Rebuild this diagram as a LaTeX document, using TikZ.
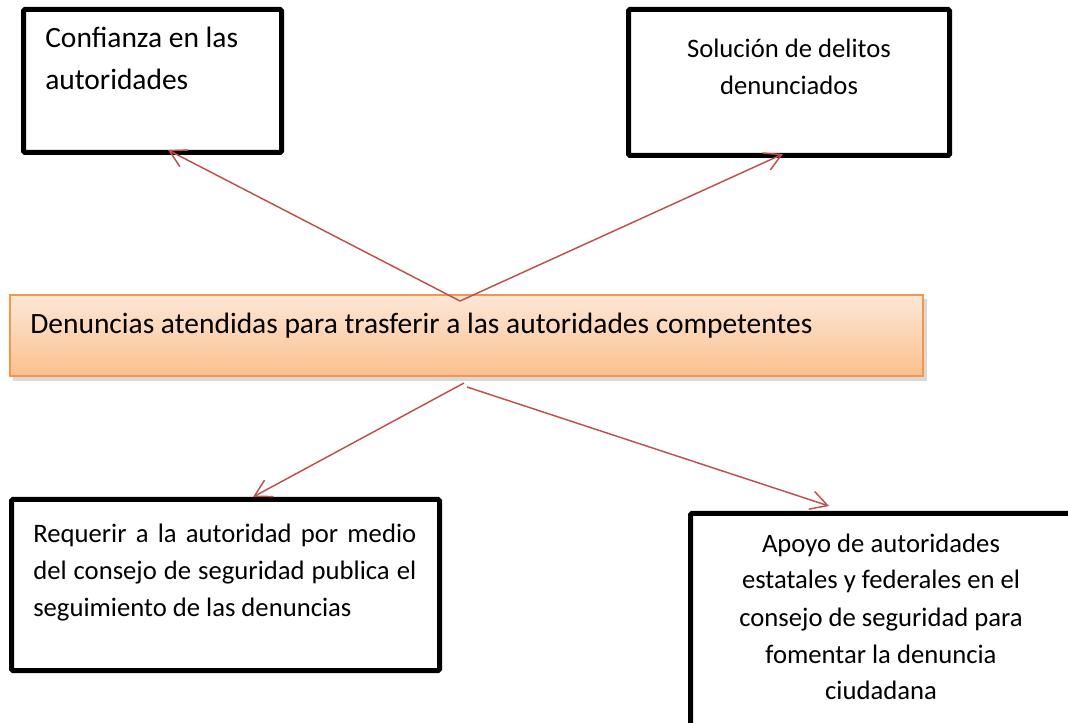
\documentclass[tikz,border=0pt]{standalone}
\usepackage{fontspec}
\setmainfont{Carlito}
\usetikzlibrary{arrows.meta,fit}
\definecolor{arrred}{HTML}{C0504D}
\definecolor{barline}{HTML}{F79646}
\definecolor{bartop}{HTML}{FDE7D7}
\definecolor{barbot}{HTML}{FBC08E}
\tikzset{
  box/.style={draw=black, line width=3.75pt, inner sep=0pt, rounded corners=1pt},
  arr/.style={draw=arrred, line width=1.1pt, -{Straight Barb[length=12.5pt,width=14pt]}},
  txt/.style={inner sep=0pt, anchor=base west},
  ctxt/.style={inner sep=0pt, anchor=base},
}
\begin{document}
\begin{tikzpicture}[x=0.75pt,y=-0.75pt]
\clip (0,0) rectangle (1068,723);
\fill[white] (0,0) rectangle (1068,723);
% central bar
\fill[black!15] (13,299) rectangle (927,381);
\node[fit={(10,295) (923,376)}, inner sep=0pt, draw=barline, line width=1.9pt,
      top color=bartop, bottom color=barbot] (bar) {};
\node[txt] (t0) at (30,334) {\fontsize{22.1pt}{26pt}\selectfont Denuncias atendidas para trasferir a las autoridades competentes};
% boxes
\node[box, fit={(23.5,9.5) (281.5,152.5)}] (b1) {};
\node[box, fit={(628.5,9.5) (949.5,155.5)}] (b2) {};
\node[box, fit={(11.5,499.5) (439.5,670.5)}] (b3) {};
\node[box, fit={(690.5,513.5) (1072,745)}] (b4) {};
% texts
\node[txt] (t1) at (45,48) {\parbox[t]{230pt}{\fontsize{22.1pt}{31.5pt}\selectfont Confianza en las\\autoridades}};
\node[ctxt] (t2) at (789,58) {\parbox[t]{230pt}{\centering\fontsize{20pt}{27.75pt}\selectfont Solución de delitos\\denunciados}};
\node[txt] (t3) at (33,542) {\parbox[t]{287.25pt}{\fontsize{20pt}{28.1pt}\selectfont
  \makebox[287.25pt][s]{Requerir a la autoridad por medio}\\
  \makebox[287.25pt][s]{del consejo de seguridad publica el}\\
  seguimiento de las denuncias}};
\node[ctxt] (t4) at (881,552) {\parbox[t]{260pt}{\centering\fontsize{20pt}{27.75pt}\selectfont Apoyo de autoridades\\estatales y federales en el\\consejo de seguridad para\\fomentar la denuncia\\ciudadana}};
% connectors
\coordinate (up) at (460,301);
\coordinate (dl) at (464,383);
\coordinate (dr) at (467,387);
\coordinate (e1) at (168,150);
\coordinate (e2) at (783,154);
\coordinate (e3) at (253,497);
\coordinate (e4) at (829,506);
\draw[arr] (up) -- (e1);
\draw[arr] (up) -- (e2);
\draw[arr] (dl) -- (e3);
\draw[arr] (dr) -- (e4);
\end{tikzpicture}
\end{document}
